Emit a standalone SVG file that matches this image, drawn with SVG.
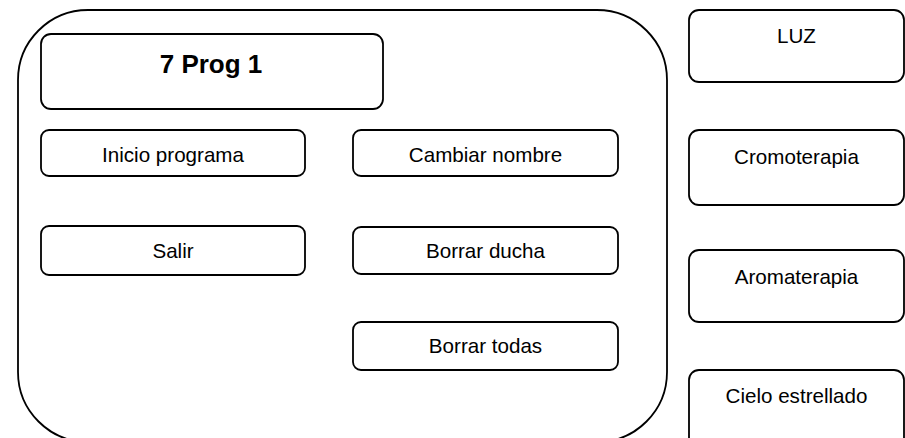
<svg xmlns="http://www.w3.org/2000/svg" width="905" height="438" viewBox="0 0 905 438">
<style>
rect{fill:#fff;stroke:#000;stroke-width:1.8}
text{font-family:"Liberation Sans",Arial,sans-serif;font-size:20.6px;fill:#000;text-anchor:middle}
.t{font-weight:bold;font-size:26px}
</style>
<g id="container"><rect x="18" y="10" width="649" height="432" rx="70" ry="70"/></g>
<g id="title"><rect x="41" y="34" width="342" height="75" rx="10"/><text class="t" x="211" y="73">7 Prog 1</text></g>
<g id="inicio"><rect x="41" y="130" width="264" height="46" rx="8"/><text x="173" y="162">Inicio programa</text></g>
<g id="salir"><rect x="41" y="226" width="264" height="49" rx="8"/><text x="173" y="258">Salir</text></g>
<g id="cambiar"><rect x="353" y="130" width="265" height="46" rx="8"/><text x="485.5" y="162">Cambiar nombre</text></g>
<g id="borrar-ducha"><rect x="353" y="227" width="265" height="47" rx="8"/><text x="485.5" y="258">Borrar ducha</text></g>
<g id="borrar-todas"><rect x="353" y="322" width="265" height="48" rx="8"/><text x="485.5" y="353">Borrar todas</text></g>
<g id="luz"><rect x="689" y="10" width="215" height="72" rx="10"/><text x="796.5" y="43">LUZ</text></g>
<g id="cromoterapia"><rect x="689" y="130" width="215" height="75" rx="10"/><text x="796.5" y="164">Cromoterapia</text></g>
<g id="aromaterapia"><rect x="689" y="250" width="215" height="72" rx="10"/><text x="796.5" y="284">Aromaterapia</text></g>
<g id="cielo"><rect x="689" y="370" width="215" height="80" rx="10"/><text x="796.5" y="403">Cielo estrellado</text></g>
<g id="connectors"></g>
</svg>
